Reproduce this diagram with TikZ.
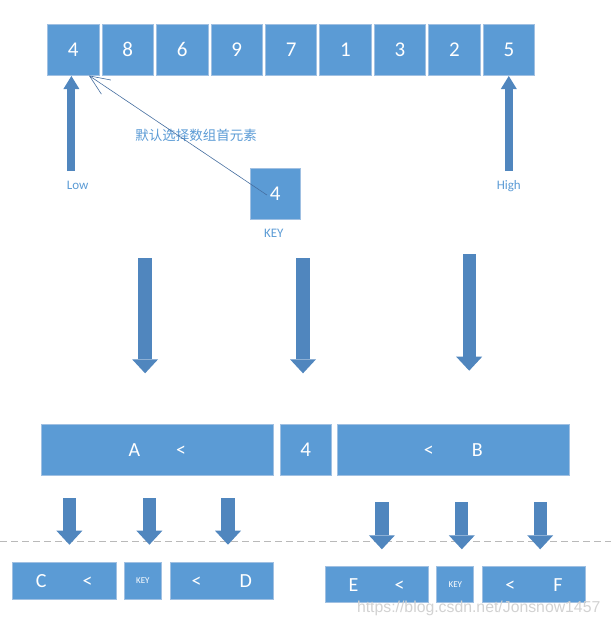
\documentclass[tikz,border=0pt]{standalone}
\usepackage{fontspec}
\setmainfont{Carlito}
\newfontfamily\cjkfont{Noto Sans CJK SC}
\newfontfamily\markfont{Liberation Sans}
\usetikzlibrary{arrows.meta}
\definecolor{boxblue}{RGB}{91,155,213}
\definecolor{boxedge}{RGB}{160,192,226}
\definecolor{arrowblue}{RGB}{80,134,190}
\definecolor{linkblue}{RGB}{70,110,160}
\tikzset{
  cell/.style={draw=boxedge,fill=boxblue,text=white,line width=0.8pt,inner sep=0pt,
    minimum width=51.5pt,minimum height=50.5pt,font=\fontsize{21}{23}\selectfont},
  part/.style={cell,minimum height=36.3pt,font=\fontsize{20}{22}\selectfont},
  small key/.style={part,font=\fontsize{9}{10}\selectfont},
  pointer arrow/.style={draw=arrowblue,line width=8pt,
    -{Triangle[width=16pt,length=13pt,line width=0pt]}},
  step arrow/.style={draw=arrowblue,line width=13.3pt,
    -{Triangle[width=26pt,length=14pt,line width=0pt]}},
  link arrow/.style={draw=linkblue,line width=0.6pt,
    -{Straight Barb[length=20pt,width=17pt,line width=0.6pt]}},
  tag/.style={text=boxblue,font=\fontsize{13}{15}\selectfont}
}

\begin{document}
\begin{tikzpicture}[x=1pt,y=-1pt]
    \useasboundingbox (0,0) rectangle (611,626);
    \foreach \v [count=\i from 0] in {4,8,6,9,7,1,3,2,5}
      \node[cell] (b\i) at ({73.3+54.45*\i},49.7) {\v};
    \node[cell,minimum width=50.4pt,minimum height=51pt] (keybox) at (275.1,193.5) {4};
    \node[tag] (keylabel) at (273.8,233) {KEY};
    \node[tag] (low) at (77.7,185.7) {Low};
    \node[tag] (high) at (508.8,185.7) {High};
    \coordinate (lowtail) at (71.4,171);
    \coordinate (lowtip) at (71.4,76);
    \coordinate (hightail) at (508.8,171);
    \coordinate (hightip) at (508.8,76);
    \draw[pointer arrow] (lowtail) -- (lowtip);
    \draw[pointer arrow] (hightail) -- (hightip);
    \node[text=boxblue,font=\cjkfont\fontsize{13.5}{15}\selectfont] (note) at (196.2,135)
      {默认选择数组首元素};
    \coordinate (linkstart) at (266.9,195);
    \coordinate (linkend) at (88.9,75.5);
    \draw[link arrow] (linkstart) -- (linkend);
    \foreach \x/\a/\b in {145.1/258.3/373.3,303/258.3/373.3,469.2/254/370.7} {
      \coordinate (s) at (\x,\a);
      \coordinate (t) at (\x,\b);
      \draw[step arrow] (s) -- (t);
    }
    \node[cell,minimum width=231.3pt,font=\fontsize{20}{22}\selectfont] (lower) at (157.3,449.9)
      {A\hspace{36pt}<};
    \node[cell,minimum width=51.6pt] (pivot) at (305.8,449.9) {4};
    \node[cell,minimum width=231.7pt,font=\fontsize{20}{22}\selectfont] (upper) at (453.4,449.9)
      {<\hspace{38pt}B};
    \draw[gray!55,line width=0.8pt,dash pattern=on 7pt off 4pt] (0,541.7) -- (611,541.7);
    \foreach \x in {69.4,149.4,228} {
      \coordinate (s) at (\x,498.3);
      \coordinate (t) at (\x,544.7);
      \draw[step arrow] (s) -- (t);
    }
    \foreach \x in {381.9,461.8,540.2} {
      \coordinate (s) at (\x,502.3);
      \coordinate (t) at (\x,549.3);
      \draw[step arrow] (s) -- (t);
    }
    \node[part,minimum width=103.8pt] (c) at (64.3,581) {C\hspace{36pt}<};
    \node[small key,minimum width=36.3pt] (keyl) at (142.9,581) {KEY};
    \node[part,minimum width=102.6pt] (d) at (221.7,581) {<\hspace{38pt}D};
    \node[part,minimum width=103.3pt] (e) at (376.6,584.7) {E\hspace{36pt}<};
    \node[small key,minimum width=37pt] (keyr) at (455.3,584.7) {KEY};
    \node[part,minimum width=102.6pt] (f) at (534,584.7) {<\hspace{38pt}F};
    \node[text=gray!35,font=\markfont\fontsize{15.8}{17}\selectfont] (mark) at (478.7,608)
      {https://blog.csdn.net/Jonsnow1457};
  \end{tikzpicture}
\end{document}
